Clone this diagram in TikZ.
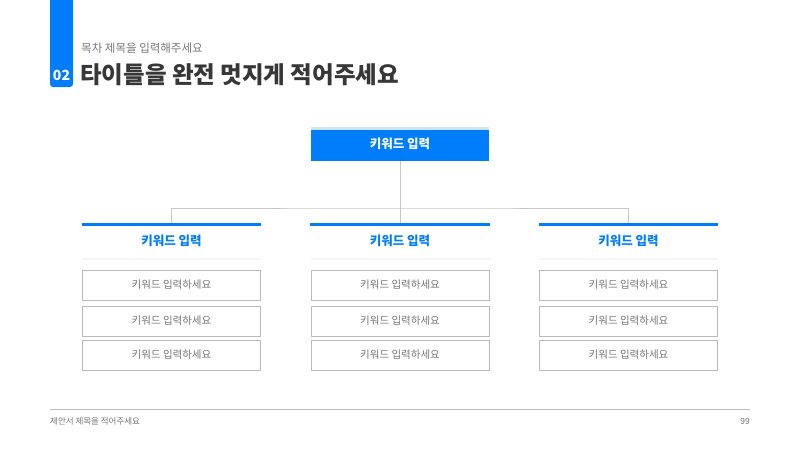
\documentclass[tikz,border=0pt]{standalone}
\usepackage{fontspec}
\setmainfont{Noto Sans CJK KR}
\usetikzlibrary{positioning,shadows}
\definecolor{keyblue}{RGB}{0,125,250}
\definecolor{lightblue}{RGB}{205,228,252}
\definecolor{linegray}{RGB}{200,200,200}
\definecolor{boxgray}{RGB}{185,185,185}
\definecolor{textgray}{RGB}{120,120,120}
\definecolor{titlegray}{RGB}{55,55,55}
\tikzset{
    topbox/.style = {fill=keyblue,text=white,minimum width=178pt,minimum height=33pt,inner sep=0pt,font=\fontsize{12.5}{12.5}\selectfont\bfseries},
    headbox/.style = {fill=white,text=keyblue,minimum width=179pt,minimum height=35pt,inner sep=0pt,font=\fontsize{12.5}{12.5}\selectfont\bfseries,
        drop shadow={opacity=0.08,shadow xshift=0pt,shadow yshift=-1.5pt}},
    itembox/.style = {draw=boxgray,line width=0.8pt,fill=white,text=textgray,minimum width=178pt,minimum height=30pt,inner sep=0pt,font=\fontsize{10.5}{10.5}\selectfont},
    tree/.style = {draw=linegray,line width=1pt}
}

\begin{document}
\begin{tikzpicture}[x=1pt,y=-1pt]

        \useasboundingbox (0,0) rectangle (800,448);

        % Section number tab
        \fill[keyblue,rounded corners=3pt] (50,-5) rectangle (73,87);
        \fill[keyblue] (50,-5) rectangle (73,20);
        \node[text=white,font=\fontsize{14}{14}\selectfont\bfseries] (num) at (61.5,75) {02};

        % Subtitle and title
        \node[anchor=west,text=textgray,inner sep=0pt,font=\fontsize{11.5}{11.5}\selectfont] (subtitle) at (81,48) {목차 제목을 입력해주세요};
        \node[anchor=west,text=titlegray,inner sep=0pt,font=\fontsize{23.5}{23.5}\selectfont\bfseries] (title) at (80,75) {타이틀을 완전 멋지게 적어주세요};

        % Top keyword box
        \node[topbox] (top) at (400,144) {키워드 입력};
        \fill[lightblue] (top.north west) rectangle ([yshift=-3pt]top.north east);

        % Three header boxes
        \node[headbox] (headA) at (171.5,240.5) {키워드 입력};
        \node[headbox] (headB) at (400,240.5) {키워드 입력};
        \node[headbox] (headC) at (628.5,240.5) {키워드 입력};
        \foreach \h in {headA,headB,headC}
            \fill[keyblue] (\h.north west) rectangle ([yshift=-3pt]\h.north east);

        % Connectors from top box to headers
        \coordinate (joint) at (400,208);
        \draw[tree] (top.south) -- (headB.north);
        \draw[tree] (headA.north) |- (joint) -| (headC.north);

        % Item boxes under each header
        \foreach \h/\x in {A/171.5,B/400,C/628.5}{
            \node[itembox] (item\h1) at (\x,285) {키워드 입력하세요};
            \node[itembox] (item\h2) at (\x,321) {키워드 입력하세요};
            \node[itembox] (item\h3) at (\x,355) {키워드 입력하세요};
        }

        % Footer
        \coordinate (footL) at (50,409);
        \coordinate (footR) at (750,409);
        \draw[draw=boxgray,line width=0.8pt] (footL) -- (footR);
        \node[anchor=west,text=textgray,inner sep=0pt,font=\fontsize{8.5}{8.5}\selectfont] (foottext) at (50,421) {제안서 제목을 적어주세요};
        \node[anchor=east,text=textgray,inner sep=0pt,font=\fontsize{8.5}{8.5}\selectfont] (page) at (750,421) {99};

    \end{tikzpicture}
\end{document}
